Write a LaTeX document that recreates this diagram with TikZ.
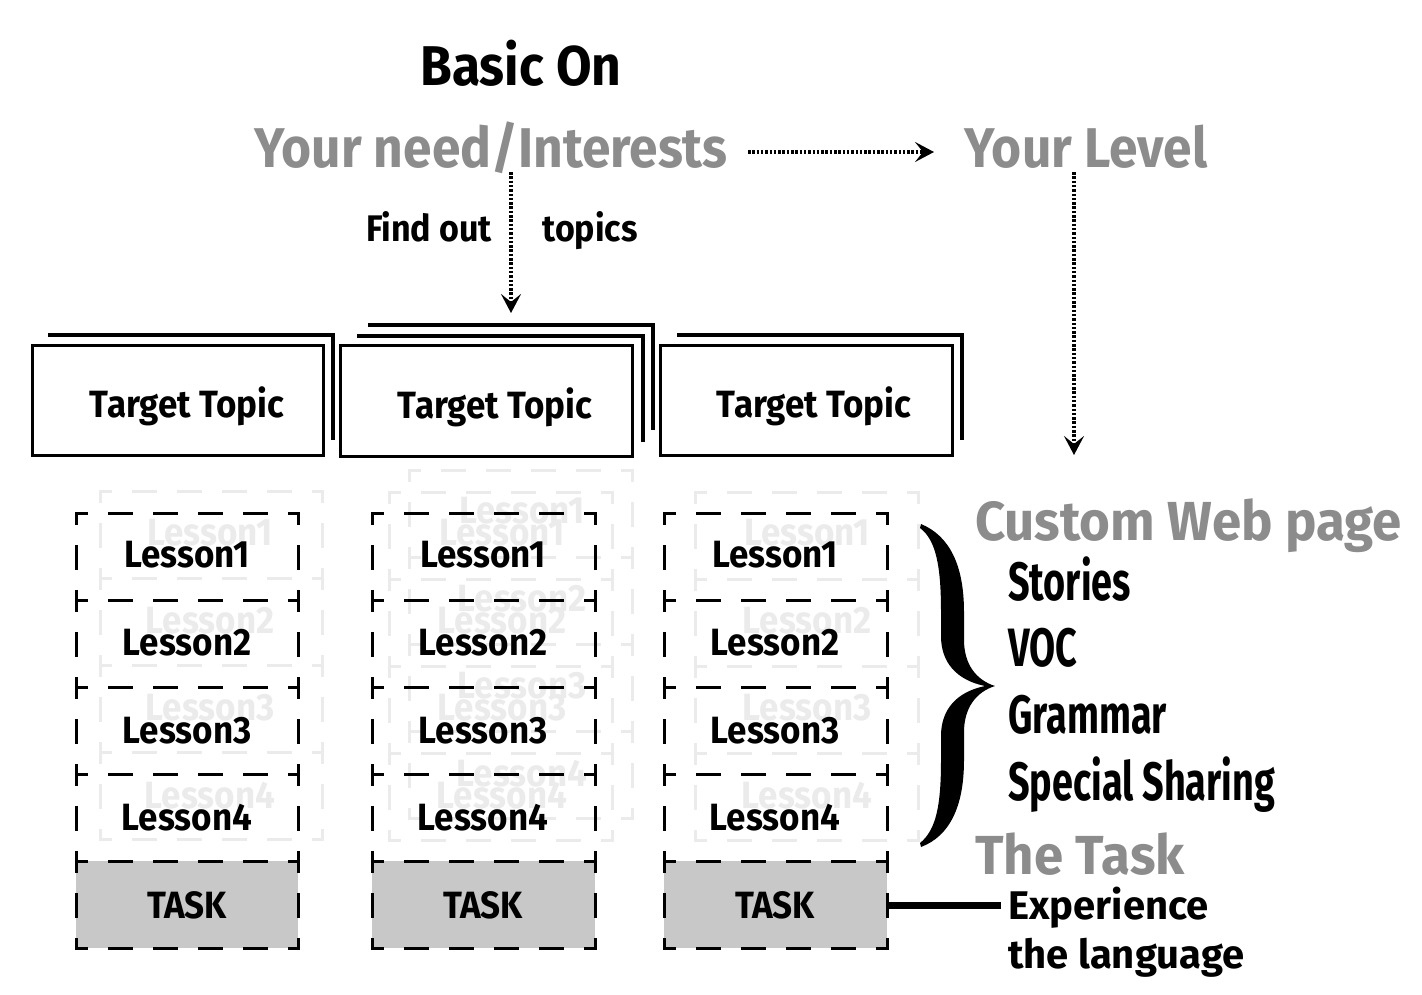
\documentclass[tikz,border=0pt]{standalone}
\usepackage{fontspec}
\setmainfont{Fira Sans}
\newfontfamily\wideF[FakeStretch=1.0]{Fira Sans}
\newfontfamily\sideF[FakeStretch=0.96]{Fira Sans}
\newfontfamily\topicF[FakeStretch=0.92]{Fira Sans}
\newfontfamily\headF[FakeStretch=0.92]{Fira Sans}
\newfontfamily\narrowF[FakeStretch=0.70]{Fira Sans}
\usetikzlibrary{arrows.meta}
\definecolor{headgray}{HTML}{8C8C8C}
\definecolor{taskgray}{HTML}{C8C8C8}
\definecolor{ghost}{HTML}{EBEBEB}

\tikzset{
  headtext/.style={font=\headF\bfseries\fontsize{56}{56}\selectfont, text=headgray, inner sep=0pt, anchor=base},
  titletext/.style={font=\headF\bfseries\fontsize{56}{56}\selectfont, inner sep=0pt, anchor=base},
  smalllabel/.style={font=\headF\bfseries\fontsize{37}{37}\selectfont, inner sep=0pt, anchor=base},
  topictext/.style={font=\topicF\bfseries\fontsize{38}{38}\selectfont, inner sep=0pt, anchor=base},
  lessontext/.style={font=\topicF\bfseries\fontsize{38}{38}\selectfont, inner sep=0pt, anchor=base},
  ghosttext/.style={lessontext, text=ghost},
  sidehead/.style={font=\sideF\bfseries\fontsize{55}{55}\selectfont, text=headgray, inner sep=0pt, anchor=base west},
  sideitem/.style={font=\narrowF\bfseries\fontsize{54}{54}\selectfont, inner sep=0pt, anchor=base west},
  sidenote/.style={font=\wideF\bfseries\fontsize{40}{40}\selectfont, inner sep=0pt, anchor=base west},
  frontbox/.style={draw=black, line width=3pt, fill=white},
  backedge/.style={draw=black, line width=4pt},
  cellline/.style={line width=3pt, dash pattern=on 22pt off 23pt, dash phase=12pt, line cap=rect},
  flowarrow/.style={line width=3.2pt, dash pattern=on 2.5pt off 1.8pt, -{Stealth[length=19pt,width=20pt,inset=8pt]}},
}

% one column of lesson cells
% #1 left x, #2 right x, #3 top y, #4 colour, #5 number of cells
\newcommand\lessongrid[5]{%
  \foreach \k in {0,...,#5}{
    \draw[cellline, draw=#4] (#1,{#3+87*\k}) -- (#2,{#3+87*\k});
  }
  \foreach \k in {1,...,#5}{
    \draw[cellline, draw=#4] (#1,{#3+87*(\k-1)}) -- (#1,{#3+87*\k});
    \draw[cellline, draw=#4] (#2,{#3+87*(\k-1)}) -- (#2,{#3+87*\k});
  }
}

\begin{document}
\begin{tikzpicture}[x=1pt,y=-1pt]
\useasboundingbox[fill=white] (0,0) rectangle (1422,994);

% ---- header ----
\node[titletext] (basic) at (521,85) {Basic On};
\node[headtext] (need) at (491,167) {Your need/Interests};
\node[headtext] (level) at (1086,167) {Your Level};
\node[smalllabel] (findout) at (429,241) {Find out};
\node[smalllabel] (topics) at (590,241) {topics};

\coordinate (needR) at (748,152);
\coordinate (levelL) at (934,152);
\coordinate (needB) at (511,172);
\coordinate (topicT) at (511,313);
\coordinate (levelB) at (1074,172);
\coordinate (pageT) at (1074,455);
\draw[flowarrow] (needR) -- (levelL);
\draw[flowarrow] (needB) -- (topicT);
\draw[flowarrow] (levelB) -- (pageT);

% ---- target topic stacks ----
\draw[backedge] (48,335) -- (333,335) -- (333,440);
\draw[frontbox] (32,345) rectangle (323,455);
\node[topictext] (topic1) at (187,417) {Target Topic};

\draw[backedge] (368,325) -- (653,325) -- (653,430);
\draw[backedge, fill=white] (357,336) -- (643,336) -- (643,442);
\draw[frontbox] (340,345) rectangle (632,456);
\node[topictext] (topic2) at (495,418) {Target Topic};

\draw[backedge] (677,335) -- (962,335) -- (962,440);
\draw[frontbox] (660,345) rectangle (952,455);
\node[topictext] (topic3) at (814,417) {Target Topic};

% ---- faint lesson copies behind the columns ----
\lessongrid{100}{322}{491}{ghost}{4}
\lessongrid{409}{632}{470}{ghost}{4}
\lessongrid{389}{612}{492}{ghost}{4}
\lessongrid{695}{918}{492}{ghost}{4}
\foreach \n/\y in {1/545,2/633,3/720,4/808}{
  \node[ghosttext] at (210,\y) {Lesson\n};
  \node[ghosttext] at (522,{\y-22}) {Lesson\n};
  \node[ghosttext] at (502,\y) {Lesson\n};
  \node[ghosttext] at (807,\y) {Lesson\n};
}

% ---- lesson columns ----
\fill[taskgray] (76,861) rectangle (298,948);
\fill[taskgray] (372,861) rectangle (595,948);
\fill[taskgray] (664,861) rectangle (887,948);
\lessongrid{76}{298}{513}{black}{5}
\lessongrid{372}{595}{513}{black}{5}
\lessongrid{664}{887}{513}{black}{5}

\foreach \cx/\c in {187/a,483/b,775/c}{
  \node[lessontext] (l1\c) at (\cx,567) {Lesson1};
  \node[lessontext] (l2\c) at (\cx,655) {Lesson2};
  \node[lessontext] (l3\c) at (\cx,743) {Lesson3};
  \node[lessontext] (l4\c) at (\cx,830) {Lesson4};
  \node[lessontext] (task\c) at (\cx,918) {TASK};
}

% ---- brace ----
\fill[black] (921,524) .. controls (950,536) and (964,566) .. (964,612)
  -- (964,640) .. controls (964,664) and (976,680) .. (995,686)
  .. controls (976,692) and (964,708) .. (964,732)
  -- (964,760) .. controls (964,806) and (950,836) .. (921,847)
  -- (920,843) .. controls (936,830) and (941,806) .. (941,760)
  -- (941,736) .. controls (941,710) and (956,692) .. (985,686)
  .. controls (956,680) and (941,662) .. (941,636)
  -- (941,612) .. controls (941,566) and (936,540) .. (920,528) -- cycle;

% ---- right-hand notes ----
\node[sidehead] (webpage) at (975,540) {Custom Web page};
\node[sideitem] (stories) at (1008,600) {Stories};
\node[sideitem] (voc) at (1008,666) {VOC};
\node[sideitem] (grammar) at (1008,733) {Grammar};
\node[sideitem] (sharing) at (1008,800) {Special Sharing};
\node[sidehead] (thetask) at (975,874) {The Task};
\node[sidenote] (exp) at (1008,919) {Experience};
\node[sidenote] (lang) at (1008,968) {the language};

\coordinate (taskR) at (887,905);
\coordinate (expL) at (1001,905);
\draw[line width=7pt] (taskR) -- (expL);
\end{tikzpicture}
\end{document}
